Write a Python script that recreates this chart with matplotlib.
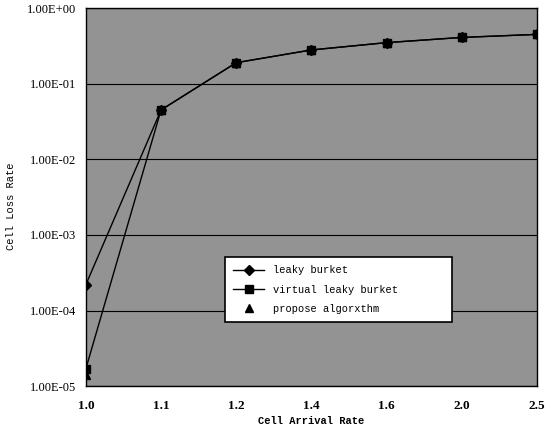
import numpy as np
import matplotlib
matplotlib.use("Agg")
import matplotlib.pyplot as plt
from matplotlib.ticker import FixedLocator, FuncFormatter

# ── Data ────────────────────────────────────────────────────────────────────
rates = ["1.0", "1.1", "1.2", "1.4", "1.6", "2.0", "2.5"]
leaky_bucket = [2.2e-4, 0.045, 0.19, 0.28, 0.35, 0.41, 0.45]
virtual_leaky_bucket = [1.7e-5, 0.045, 0.19, 0.28, 0.35, 0.41, 0.45]
propose_algorithm = [1.4e-5, 0.045, 0.19, 0.28, 0.35, 0.41, 0.45]

# ── Plot ─────────────────────────────────────────────────────────────────────
fig = plt.figure(figsize=(5.54, 4.30), dpi=100)
ax = fig.add_axes([0.155, 0.102, 0.814, 0.879])
ax.set_facecolor("#939393")

x = np.arange(len(rates))
ax.plot(x, propose_algorithm, linestyle="none", marker="^", color="black",
        markersize=6, label="propose algorxthm", zorder=2)
ax.plot(x, virtual_leaky_bucket, color="black", linewidth=1.0, marker="s",
        markersize=6, label="virtual leaky burket", zorder=3)
ax.plot(x, leaky_bucket, color="black", linewidth=1.0, marker="D",
        markersize=5, label="leaky burket", zorder=4)

ax.set_yscale("log")
ax.set_ylim(1e-5, 1)
ax.set_xlim(0, len(rates) - 1)
ax.set_xticks(x)
ax.set_xticklabels(rates, family="Liberation Serif", fontsize=9.5, fontweight="bold")

decades = [1e-5, 1e-4, 1e-3, 1e-2, 1e-1, 1e0]
ax.yaxis.set_major_locator(FixedLocator(decades))
ax.yaxis.set_minor_locator(FixedLocator([]))
ax.yaxis.set_major_formatter(FuncFormatter(lambda v, p: f"{v:.2E}"))
for lab in ax.get_yticklabels():
    lab.set_family("Liberation Serif")
    lab.set_fontsize(9)
ax.tick_params(axis="y", length=0, pad=7)
ax.tick_params(axis="x", length=0, pad=10)
ax.grid(axis="y", which="major", color="black", linewidth=0.8)
ax.set_axisbelow(True)
for s in ax.spines.values():
    s.set_color("black")
    s.set_linewidth(1.0)

fig.text(0.02, 0.52, "Cell Loss Rate", family="Liberation Mono", fontsize=7.5,
         rotation=90, ha="center", va="center")
ax.set_xlabel("Cell Arrival Rate", family="Liberation Mono", fontsize=7.5,
              fontweight="bold", labelpad=3)

leg = ax.legend(handles=[ax.lines[2], ax.lines[1], ax.lines[0]],
                loc="lower left", bbox_to_anchor=(0.308, 0.169, 0.503, 0.177),
                mode="expand", borderaxespad=0, fancybox=False, framealpha=1,
                edgecolor="black", prop={"family": "Liberation Mono", "size": 7.5},
                handlelength=3, borderpad=0.8, labelspacing=0.9)
leg.get_frame().set_linewidth(1.2)

fig.savefig("out.png", dpi=100)
